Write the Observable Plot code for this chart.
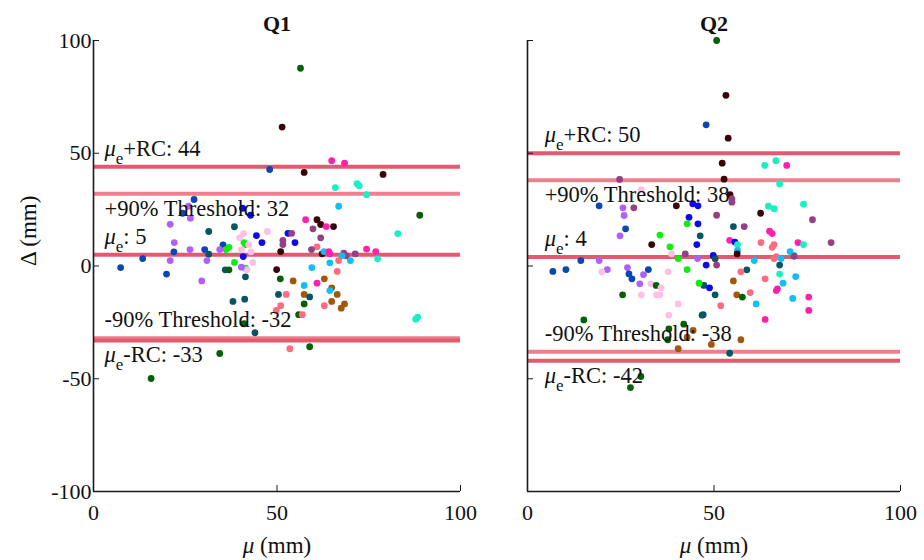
<!DOCTYPE html>
<html><head><meta charset="utf-8">
<script src="https://cdn.jsdelivr.net/npm/d3@7"></script>
<script src="https://cdn.jsdelivr.net/npm/@observablehq/plot@0.6"></script>
<style>
body{margin:0;background:#fff;}
#chart{position:relative;width:924px;height:560px;display:flex;background:#fff;}
#chart svg{max-width:none;flex:none;}
</style></head><body><div id="chart"></div>
<script>
// subject groups and their colours
const groups = ["N","B","P","K","L","T","G","M","U","Mg","S","C","A","R"];
const groupColors = ["#0b47b0","#0a0af0","#b060f8","#ffbfe8","#10ee10","#0a5563","#046109","#3a0508","#963f84","#ff20ae","#ff6b80","#10bff5","#18f0c0","#a0580c"];

// Q1 points
const q1Mu = [56.4,51.4,64.9,68.4,48.0,57.4,78.9,65.9,71.8,72.4,74.4,66.8,88.9,82.9,57.8,60.9,61.9,63.4,65.4,59.8,53.0,54.0,61.9,54.9,51.6,51.6,60.9,59.4,51.0,62.3,62.8,64.1,64.4,68.2,68.9,67.7,70.0,71.3,74.4,76.9,77.4,66.8,64.4,59.5,66.4,49.9,50.9,54.4,62.9,57.4,60.9,64.9,64.4,50.4,52.5,57.4,58.9,66.4,64.9,57.4,51.0,49.8,62.9,68.4,67.5,55.9,56.9,87.8,88.3,53.5,58.9,38.0,41.2,41.0,44.0,34.4,15.7,27.4,24.3,25.9,26.4,40.6,42.8,20.9,38.4,31.4,40.9,47.4,44.4,45.9,41.0,41.4,39.8,42.3,22.0,35.3,36.9,36.1,34.4,21.9,26.3,30.3,31.4,40.3,40.8,42.9,43.4,13.4,20.9,30.9,38.4,7.4,19.9,35.9,36.9,41.4,41.8,40.3,41.4,29.5];
const q1Delta = [87.7,61.6,46.7,45.6,42.8,41.5,40.6,34.8,36.5,35.6,31.6,26.5,22.5,14.4,20.5,20.5,18.4,17.5,17.5,16.5,14.5,14.5,12.5,10.4,11.3,9.5,8.5,7.3,6.4,5.4,6.4,6.4,5.4,5.7,4.5,4.5,2.4,5.4,7.5,6.4,3.2,2.4,1.4,-0.7,-2.4,-1.6,-5.7,-6.6,-5.7,-8.6,-7.6,-9.7,-10.9,-12.6,-12.6,-12.6,-13.7,-12.6,-15.7,-16.8,-17.6,-19.7,-17.6,-16.8,-18.7,-21.6,-21.6,-23.6,-22.7,-36.7,-35.8,-15.7,-14.7,-25.6,-29.6,-38.8,-49.9,29.5,23.4,26.5,21.2,25.6,22.5,18.5,17.4,15.3,14.4,15.3,13.5,10.4,10.4,9.4,12.5,9.4,10.4,9.4,8.3,7.3,7.3,6.3,7.3,7.3,5.2,7.3,4.2,6.3,1.6,3.3,2.4,2.4,1.6,-0.7,-3.6,-1.7,-1.7,-1.0,-1.7,-0.5,-4.8,-6.6];
const q1Subj = ["G","M","Mg","Mg","N","M","M","A","A","A","A","C","G","A","Mg","M","M","Mg","M","U","B","U","U","B","U","U","S","U","M","M","C","Mg","Mg","U","U","C","C","U","Mg","Mg","A","S","C","C","S","M","G","R","R","C","Mg","R","C","T","S","R","T","R","R","G","S","S","S","R","R","G","S","A","A","S","G","T","T","G","T","G","G","N","N","P","P","B","B","P","T","T","K","K","B","B","L","L","K","K","P","N","L","L","P","N","P","N","T","K","B","K","K","N","P","P","L","N","N","T","G","L","K","P","T","P"];

// Q2 points
const q2Mu = [50.7,53.2,47.9,53.8,52.2,63.6,66.6,69.5,52.7,24.7,67.6,54.3,54.8,54.8,64.6,66.1,74.0,62.5,50.7,76.4,55.2,58.1,64.9,65.6,54.2,55.6,56.3,56.3,62.6,66.1,65.6,72.5,74.0,81.4,70.4,71.5,56.2,49.8,50.3,66.1,66.7,68.0,71.5,60.8,47.9,50.7,67.6,58.8,57.2,67.6,71.9,55.2,63.7,68.5,47.3,48.8,66.7,67.0,59.7,50.3,56.1,57.6,71.1,75.4,51.8,61.3,75.4,47.1,63.7,57.2,49.3,54.2,30.5,19.2,25.6,25.9,28.5,39.9,44.3,45.7,43.3,42.8,45.7,26.3,24.8,35.5,46.3,45.4,33.3,38.2,38.6,42.3,40.4,45.6,14.3,19.2,6.8,10.3,21.4,26.8,32.4,42.8,19.9,37.7,27.2,28.0,31.1,30.1,33.1,34.5,35.8,46.0,25.5,30.5,34.6,35.5,40.4,37.9,46.8,15.1,37.9,41.9,44.4,42.8,37.6,40.4,30.4,27.6];
const q2Delta = [100,75.7,62.6,56.7,45.6,44.6,46.7,44.6,38.5,38.4,36.4,31.6,29.8,28.3,26.5,25.4,27.4,23.4,22.5,20.5,17.5,17.5,15.4,14.4,11.4,10.6,9.5,6.9,10.4,9.5,8.3,10.4,9.5,10.4,6.4,4.7,5.4,4.7,3.2,3.3,4.2,3.3,4.3,2.4,0.4,0.4,0.4,-1.7,-2.6,-3.6,-4.7,-6.6,-5.7,-7.6,-8.6,-9.7,-10.9,-10.1,-11.8,-12.8,-12.8,-13.8,-14.4,-13.8,-17.6,-16.8,-19.7,-21.6,-23.7,-32.7,-34.8,-38.7,33.9,26.7,25.8,22.4,25.8,26.7,27.6,26.7,21.6,18.7,18.7,16.5,13.4,13.7,13.4,9.5,9.5,8.5,5.4,5.4,3.3,3.3,2.4,2.4,-2.4,-1.6,-1.6,-0.7,-1.6,-1.6,-2.6,-2.6,-3.5,-5.7,-3.8,-7.9,-7.9,-8.6,-9.7,-7.6,-12.8,-12.8,-12.8,-12.8,-16.8,-21.8,-21.8,-23.9,-27.9,-25.8,-28.6,-31.6,-32.7,-36.7,-49.0,-53.9];
const q2Subj = ["G","M","N","M","M","A","A","Mg","M","U","A","M","U","U","A","A","A","M","U","U","T","U","Mg","Mg","Mg","B","A","C","S","S","S","Mg","A","U","C","C","M","B","T","S","S","C","U","C","B","U","T","T","S","A","C","R","S","C","T","B","Mg","Mg","S","T","R","G","C","Mg","S","C","Mg","T","Mg","R","R","T","K","N","P","P","U","M","B","B","B","L","B","N","P","L","T","B","M","L","K","U","L","P","N","P","N","N","P","P","N","L","K","K","N","N","P","P","K","G","K","L","G","K","K","K","K","K","T","G","G","G","R","R","G","R","G","G"];

// reference lines
const lineKinds = ["rc","thr","mean","thr","rc"];
const linePlace = ["above","below","above","above","below"];
const q1LineValues = [44, 32, 5, -32, -33];
const q1LineLabels = ["μ_e+RC: 44","+90% Threshold: 32","μ_e: 5","-90% Threshold: -32","μ_e-RC: -33"];
const q2LineValues = [50, 38, 4, -38, -42];
const q2LineLabels = ["μ_e+RC: 50","+90% Threshold: 38","μ_e: 4","-90% Threshold: -38","μ_e-RC: -42"];
const q1LabelX = 3;
const q2LabelX = 4.6;

const xTicks = [0, 50, 100];
const yTicks = [-100, -50, 0, 50, 100];

const FONT = "'Liberation Serif', 'Times New Roman', serif";
const lineColor = {rc: "#e35a6e", mean: "#e35a6e", thr: "#ec808e"};

function panel({mu, delta, subj, values, labels, labelX, title, width, marginLeft, marginRight, first}) {
  const pts = mu.map((m, i) => ({mu: m, delta: delta[i], subj: subj[i]}));
  const lines = values.map((v, i) => ({value: v, label: labels[i], kind: lineKinds[i], place: linePlace[i]}));
  const above = lines.filter(d => d.place === "above");
  const below = lines.filter(d => d.place === "below");
  const marks = [
    Plot.ruleY(lines, {y: "value", stroke: d => lineColor[d.kind], strokeWidth: 4}),
    Plot.dot(pts, {x: "mu", y: "delta", fill: "subj", r: 3.4, stroke: null}),
    Plot.text(above, {x: labelX, y: "value", text: "label", textAnchor: "start", lineAnchor: "bottom", dy: -11, fontSize: 22.5, fill: "#111"}),
    Plot.text(below, {x: labelX, y: "value", text: "label", textAnchor: "start", lineAnchor: "bottom", dy: 22, fontSize: 22.5, fill: "#111"}),
    Plot.ruleX([0], {stroke: "#1a1a1a", strokeWidth: 1.6}),
    Plot.ruleY([-100], {stroke: "#1a1a1a", strokeWidth: 1.6}),
    Plot.axisX({ticks: xTicks, tickSize: -6, tickPadding: 19, tickFormat: d => String(d), label: null, fontSize: 22, stroke: "#1a1a1a"}),
    Plot.axisY({ticks: yTicks, tickSize: -6, tickPadding: 8, tickFormat: first ? (d => String(d)) : (() => ""), label: null, fontSize: 22, stroke: "#1a1a1a"}),
    Plot.text([title], {frameAnchor: "top", lineAnchor: "bottom", dy: -10, fontSize: 22, fontWeight: "bold", fill: "#111"}),
    Plot.text(["μ (mm)"], {frameAnchor: "bottom", lineAnchor: "bottom", dy: 61, fontSize: 23, fill: "#111"})
  ];
  if (first) marks.push(Plot.text(["Δ (mm)"], {frameAnchor: "left", rotate: -90, dx: -65, fontSize: 23, fill: "#111"}));
  const svg = Plot.plot({
    width, height: 560, marginTop: 40, marginBottom: 69, marginLeft, marginRight,
    style: {fontFamily: FONT, fontSize: "20px", background: "transparent", color: "#111", overflow: "visible"},
    x: {domain: [0, 100]},
    y: {domain: [-100, 100]},
    color: {domain: groups, range: groupColors},
    marks
  });
  // rich text: italic mu and subscript e
  d3.select(svg).selectAll("text").each(function() {
    const t = this.textContent;
    if (t.startsWith("μ_e")) {
      const rest = t.slice(3);
      const sel = d3.select(this);
      sel.text(null);
      sel.append("tspan").attr("font-style", "italic").text("μ");
      sel.append("tspan").attr("font-size", "17px").attr("dy", 8).text("e");
      sel.append("tspan").attr("dy", -8).text(rest);
    } else if (t === "μ (mm)") {
      const sel = d3.select(this);
      sel.text(null);
      sel.append("tspan").attr("font-style", "italic").text("μ");
      sel.append("tspan").text(" (mm)");
    }
  });
  return svg;
}

const chart = document.getElementById("chart");
chart.appendChild(panel({mu: q1Mu, delta: q1Delta, subj: q1Subj, values: q1LineValues, labels: q1LineLabels, labelX: q1LabelX, title: "Q1", width: 490, marginLeft: 93, marginRight: 30, first: true}));
chart.appendChild(panel({mu: q2Mu, delta: q2Delta, subj: q2Subj, values: q2LineValues, labels: q2LineLabels, labelX: q2LabelX, title: "Q2", width: 434, marginLeft: 37, marginRight: 24, first: false}));
</script></body></html>
